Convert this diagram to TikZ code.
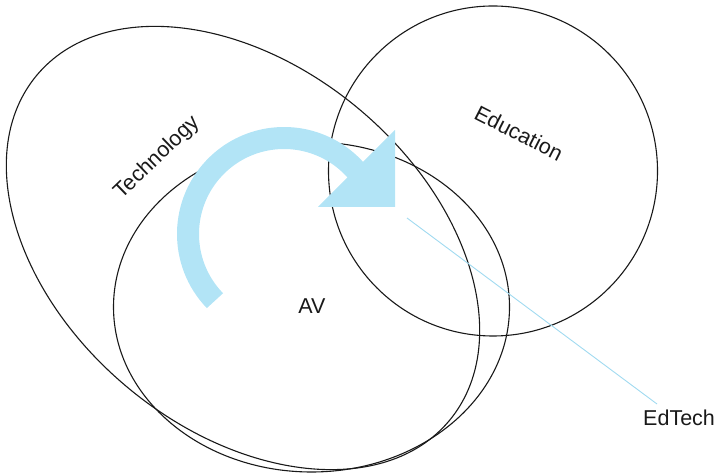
\documentclass[tikz,border=0pt]{standalone}
\usepackage{fontspec}
\setmainfont{Liberation Sans}
\usetikzlibrary{shapes.geometric,calc}
\definecolor{bandblue}{RGB}{178,228,246}
\definecolor{lineblue}{RGB}{160,218,240}
\definecolor{ink}{RGB}{25,25,25}
\begin{document}
\begin{tikzpicture}[x=1pt,y=1pt,
  setshape/.style={ellipse, draw=ink, line width=1.1pt, inner sep=0pt, outer sep=0pt},
  lbl/.style={font=\fontsize{21.5}{25}\selectfont, text=ink, inner sep=0pt},
  band/.style={draw=bandblue, line width=22pt, line cap=butt},
]
\useasboundingbox (0,0) rectangle (717,476);
% sets
\node[setshape, minimum width=538pt, minimum height=362pt, rotate=-40] (tech) at (243,228) {};
\node[setshape, minimum width=396pt, minimum height=330pt] (av) at (311.5,169) {};
\node[setshape, minimum width=329pt, minimum height=330pt] (edu) at (493,305) {};
% curved arrow
\coordinate (arcc) at (284,242);
\draw[band] ($(arcc)+(224:96)$) arc[start angle=224, end angle=38, radius=96];
\fill[bandblue] (395,346) -- (395,269) -- (318,269) -- cycle;
% labels
\node[lbl, rotate=44] (techlbl) at (157,318) {Technology};
\node[lbl, rotate=-27] (edulbl) at (519,343) {Education};
\node[lbl] (avlbl) at (312,170) {AV};
\node[lbl, anchor=west] (edtech) at (643,58) {EdTech};
% pointer
\coordinate (ptstart) at (407,258);
\coordinate (ptend) at (657,72);
\draw[lineblue, line width=0.9pt] (ptstart) -- (ptend);
\end{tikzpicture}
\end{document}
